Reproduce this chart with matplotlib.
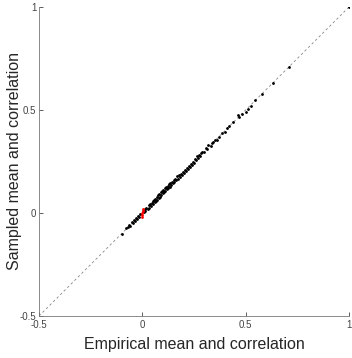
import numpy as np
from matplotlib import pyplot as plt

plt.rcParams['font.family'] = ['Liberation Sans', 'DejaVu Sans']

# empirical vs sampled statistics
emp = [-0.10, -0.08, -0.07, -0.065, -0.06, -0.05, -0.045, -0.04, -0.035, -0.03,
       -0.025, -0.02, -0.015, -0.01, 0.005, 0.01, 0.012, 0.015, 0.02, 0.025,
       0.03, 0.032, 0.035, 0.04, 0.045, 0.05, 0.052, 0.055, 0.06, 0.062,
       0.065, 0.07, 0.072, 0.075, 0.08, 0.082, 0.085, 0.09, 0.092, 0.095,
       0.10, 0.102, 0.105, 0.11, 0.112, 0.115, 0.12, 0.122, 0.125, 0.13,
       0.132, 0.135, 0.14, 0.145, 0.15, 0.152, 0.155, 0.16, 0.165, 0.17,
       0.172, 0.175, 0.18, 0.185, 0.19, 0.195, 0.20, 0.205, 0.21, 0.215,
       0.22, 0.225, 0.23, 0.235, 0.24, 0.245, 0.25, 0.255, 0.26, 0.265,
       0.27, 0.275, 0.28, 0.285, 0.29, 0.30, 0.31, 0.315, 0.32, 0.33,
       0.335, 0.34, 0.35, 0.36, 0.37, 0.385, 0.40, 0.41, 0.42, 0.44,
       0.465, 0.47, 0.48, 0.50, 0.51, 0.525, 0.545, 0.58, 0.63, 0.71, 1.0]
samp = [-0.10, -0.075, -0.07, -0.06, -0.065, -0.045, -0.05, -0.035, -0.04, -0.025,
        -0.03, -0.015, -0.02, -0.005, 0.01, 0.005, 0.02, 0.01, 0.025, 0.02,
        0.04, 0.025, 0.045, 0.035, 0.05, 0.06, 0.045, 0.065, 0.055, 0.07,
        0.06, 0.08, 0.065, 0.085, 0.075, 0.09, 0.08, 0.1, 0.085, 0.105,
        0.095, 0.11, 0.1, 0.12, 0.105, 0.125, 0.115, 0.13, 0.12, 0.14,
        0.125, 0.145, 0.135, 0.15, 0.145, 0.16, 0.15, 0.165, 0.16, 0.18,
        0.165, 0.185, 0.175, 0.19, 0.185, 0.2, 0.195, 0.21, 0.205, 0.22,
        0.215, 0.23, 0.225, 0.24, 0.235, 0.25, 0.245, 0.26, 0.255, 0.275,
        0.265, 0.28, 0.275, 0.29, 0.295, 0.295, 0.315, 0.31, 0.33, 0.325,
        0.34, 0.345, 0.355, 0.355, 0.37, 0.39, 0.395, 0.415, 0.42, 0.44,
        0.475, 0.465, 0.48, 0.49, 0.505, 0.52, 0.55, 0.58, 0.63, 0.71, 1.0]

red_emp = [0.0, 0.0, 0.0, 0.002, 0.002]
red_samp = [-0.02, -0.01, 0.0, 0.01, 0.02]

ticks = [-0.5, 0, 0.5, 1]
tick_labels = ["-0.5", "0", "0.5", "1"]

fig = plt.figure(figsize=(3.52, 3.58), dpi=100)
ax = fig.add_axes([39 / 352, 1 - 316 / 358, 310 / 352, 309 / 358])

ax.plot([-0.5, 1], [-0.5, 1], linestyle=(0, (3, 3)), color='#888888', linewidth=0.6)
ax.plot(emp, samp, '.', color='black', markersize=2)
ax.plot(red_emp, red_samp, '.', color='red', markersize=2)

ax.set_xlim(-0.5, 1)
ax.set_ylim(-0.5, 1)
ax.set_xticks(ticks)
ax.set_xticklabels(tick_labels)
ax.set_yticks(ticks)
ax.set_yticklabels(tick_labels)
ax.tick_params(direction='in', length=3, width=0.6, labelsize=7, colors='#444444')
ax.tick_params(axis='x', pad=3)
ax.tick_params(axis='y', pad=2)
for side in ['top', 'right']:
    ax.spines[side].set_visible(False)
for side in ['left', 'bottom']:
    ax.spines[side].set_color('#777777')
    ax.spines[side].set_linewidth(0.6)

ax.set_xlabel("Empirical mean and correlation", fontsize=11.5, color='#262626', labelpad=5)
ax.set_ylabel("Sampled mean and correlation", fontsize=11.5, color='#262626', labelpad=-2)

plt.savefig("out.png", dpi=100)
